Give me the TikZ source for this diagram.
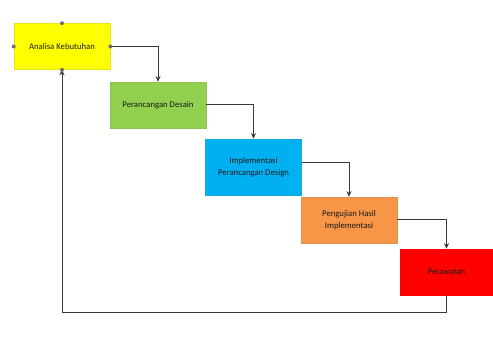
\documentclass[tikz,border=0pt]{standalone}
\usepackage{fontspec}
\setmainfont{Carlito}
\usetikzlibrary{arrows.meta}
\definecolor{cyel}{HTML}{FFFF00}
\definecolor{cgrn}{HTML}{92D050}
\definecolor{cblu}{HTML}{00B0F0}
\definecolor{corg}{HTML}{F79646}
\definecolor{cred}{HTML}{FF0000}
\definecolor{cline}{HTML}{383838}
\definecolor{chand}{HTML}{707070}
\tikzset{
  phase/.style={rectangle, draw=#1!80!gray, line width=0.6pt, fill=#1, minimum width=96pt, minimum height=46pt, inner sep=1pt, align=center, font=\fontsize{8.7}{12.5}\selectfont, text=black!90},
  arr/.style={draw=cline, line width=1pt, -{Stealth[length=5.5pt,width=5pt]}},
  handle/.style={circle, fill=chand, inner sep=0pt, minimum size=4pt}
}
\begin{document}
\begin{tikzpicture}[x=1pt,y=-1pt]
\useasboundingbox (0,0) rectangle (493,339);
\node[phase=cyel] (a) at (62,46.5) {Analisa Kebutuhan};
\node[phase=cgrn] (b) at (158,105) {Perancangan Desain};
\node[phase=cblu, minimum height=56pt] (c) at (253.5,167) {Implementasi\\Perancangan Design};
\node[phase=corg] (d) at (349,220) {Pengujian Hasil\\Implementasi};
\node[phase=cred, minimum width=93pt, draw=cred] (e) at (446.5,272) {Perawatan};
\coordinate (r) at (0,313);
\draw[arr] (a.east) -| (b.north);
\draw[arr] (b.east) -| (c.north);
\draw[arr] ([yshift=4pt]c.east) -| (d.north);
\draw[arr] (d.east) -| (e.north);
\draw[arr] (e.south) -- (e.south |- r) -- (a.south |- r) -- (a.south);
\foreach \p in {north,south,east,west} \node[handle] at (a.\p) {};
\end{tikzpicture}
\end{document}
